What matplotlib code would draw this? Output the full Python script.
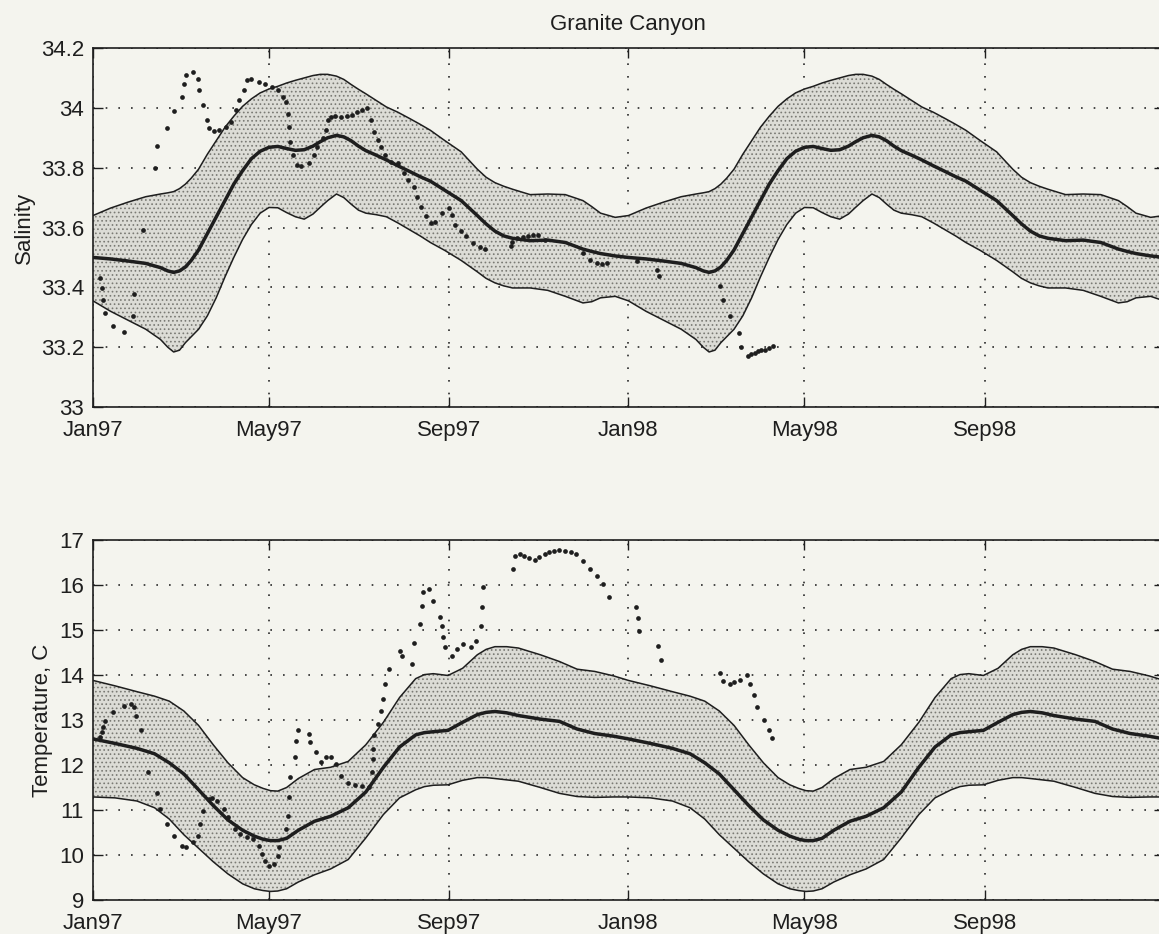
import numpy as np
import matplotlib
matplotlib.use("Agg")
import matplotlib.pyplot as plt

plt.rcParams['font.family'] = ['Liberation Sans', 'DejaVu Sans']
plt.rcParams['hatch.linewidth'] = 0.7

BG = '#f4f4ee'
INK = '#1e1e1e'

# x axis: days since 1 Jan 1997
tick_days = [0, 120, 243, 365, 485, 608]
tick_labels = ['Jan97', 'May97', 'Sep97', 'Jan98', 'May98', 'Sep98']

# --- salinity climatology (one year, day of year) ---
sal_clim_day = [0, 12, 24, 36, 46, 51, 55, 59, 63, 67, 72, 78, 84, 90, 96, 102, 108,
                114, 120, 126, 132, 138, 144, 150, 155, 160, 166, 171, 176, 181, 186,
                193, 200, 208, 216, 223, 230, 240, 251, 262, 268, 274, 280, 286, 298,
                310, 322, 334, 340, 346, 356, 365]
sal_mean = [33.50, 33.495, 33.488, 33.48, 33.466, 33.455, 33.45, 33.455, 33.468,
            33.49, 33.525, 33.58, 33.635, 33.69, 33.745, 33.79, 33.83, 33.855, 33.868,
            33.871, 33.864, 33.858, 33.86, 33.872, 33.887, 33.90, 33.908, 33.903,
            33.89, 33.872, 33.857, 33.842, 33.826, 33.806, 33.787, 33.77, 33.755,
            33.724, 33.69, 33.64, 33.612, 33.588, 33.572, 33.564, 33.556, 33.558,
            33.55, 33.528, 33.52, 33.513, 33.505, 33.50]
sal_upper = [33.64, 33.665, 33.685, 33.703, 33.712, 33.716, 33.72, 33.73, 33.745,
             33.765, 33.795, 33.845, 33.89, 33.935, 33.972, 34.005, 34.03, 34.05,
             34.063, 34.072, 34.083, 34.092, 34.10, 34.108, 34.112, 34.112, 34.106,
             34.095, 34.078, 34.062, 34.047, 34.025, 34.003, 33.985, 33.964, 33.945,
             33.925, 33.89, 33.853, 33.795, 33.768, 33.75, 33.738, 33.728, 33.71,
             33.712, 33.71, 33.69, 33.67, 33.648, 33.634, 33.64]
sal_lower = [33.355, 33.32, 33.29, 33.26, 33.226, 33.20, 33.184, 33.19, 33.215,
             33.235, 33.26, 33.305, 33.365, 33.435, 33.50, 33.56, 33.61, 33.648,
             33.667, 33.666, 33.65, 33.636, 33.628, 33.645, 33.668, 33.69, 33.712,
             33.70, 33.678, 33.658, 33.648, 33.643, 33.636, 33.615, 33.592, 33.572,
             33.55, 33.523, 33.49, 33.452, 33.43, 33.415, 33.405, 33.398, 33.398,
             33.39, 33.37, 33.348, 33.352, 33.365, 33.37, 33.355]

# --- salinity observations ---
sal_obs_day = [4.7, 5.9, 7.0, 8.2, 14, 21, 27, 28, 34, 42.4, 43.5, 50.6, 55.3, 60.7,
               62.4, 63.5, 68, 71.8, 72.5, 75.3, 77.6, 78.8, 82.4, 85.9, 90.6, 94,
               97.6, 99.3, 103, 104.7, 108, 113, 117.6, 122, 126, 129.4, 131.8, 133,
               133.7, 134, 136.5, 138.8, 142, 147, 150.6, 153, 156.5, 158.8, 160, 162,
               165, 169, 173, 176.5, 180, 183.5, 187, 189.4, 191.8, 194, 196.5, 199,
               203.5, 208, 212, 215, 219, 221, 223.5, 227, 230.6, 233, 237.7, 242.4,
               244.7, 247, 250.6, 254, 259, 263.5, 267, 284.7, 285.9, 289, 293,
               296.5, 300, 303.5, 308, 334, 339, 343.5, 347, 350.6, 370.8, 384.7,
               385.9, 427.7, 429.5, 434, 440.4, 442, 446.7, 448.5, 451, 453, 455.5,
               457.8, 460.5, 463.6]
sal_obs = [33.431, 33.398, 33.359, 33.314, 33.272, 33.251, 33.303, 33.379, 33.592,
           33.798, 33.872, 33.934, 33.989, 34.037, 34.081, 34.111, 34.12, 34.098,
           34.059, 34.009, 33.961, 33.931, 33.923, 33.926, 33.937, 33.953, 33.992,
           34.026, 34.059, 34.092, 34.098, 34.087, 34.081, 34.07, 34.059, 34.037,
           34.02, 33.981, 33.937, 33.887, 33.842, 33.809, 33.806, 33.814, 33.842,
           33.87, 33.898, 33.926, 33.959, 33.97, 33.972, 33.97, 33.973, 33.976,
           33.985, 33.992, 33.998, 33.959, 33.92, 33.892, 33.87, 33.842, 33.82,
           33.814, 33.781, 33.759, 33.737, 33.703, 33.67, 33.637, 33.614, 33.62,
           33.648, 33.664, 33.642, 33.609, 33.587, 33.57, 33.548, 33.534, 33.529,
           33.537, 33.553, 33.564, 33.568, 33.572, 33.574, 33.576, 33.559, 33.514,
           33.492, 33.481, 33.478, 33.481, 33.487, 33.459, 33.437, 33.403, 33.359,
           33.303, 33.248, 33.201, 33.17, 33.176, 33.18, 33.187, 33.19, 33.192,
           33.197, 33.203]

# --- temperature climatology ---
tmp_clim_day = [0, 15, 30, 42, 52, 62, 72, 82, 92, 102, 110, 116, 121, 126, 132, 140,
                151, 162, 174, 186, 198, 209, 220, 226, 232, 242, 252, 262, 268, 274,
                282, 290, 305, 318, 330, 342, 355, 365]
tmp_mean = [12.58, 12.48, 12.37, 12.25, 12.05, 11.8, 11.45, 11.1, 10.78, 10.55,
            10.42, 10.35, 10.32, 10.32, 10.37, 10.55, 10.75, 10.86, 11.05, 11.4,
            11.95, 12.4, 12.67, 12.72, 12.74, 12.77, 12.95, 13.12, 13.17, 13.19,
            13.16, 13.1, 13.02, 12.97, 12.8, 12.7, 12.64, 12.58]
tmp_upper = [13.88, 13.76, 13.63, 13.53, 13.42, 13.2, 12.88, 12.45, 12.05, 11.72,
             11.56, 11.48, 11.43, 11.42, 11.5, 11.7, 11.9, 11.95, 12.08, 12.45, 12.95,
             13.5, 13.92, 14.01, 14.03, 13.99, 14.15, 14.45, 14.57, 14.63, 14.63,
             14.6, 14.45, 14.3, 14.13, 14.08, 13.98, 13.88]
tmp_lower = [11.29, 11.27, 11.2, 11.05, 10.8, 10.45, 10.15, 9.85, 9.58, 9.36, 9.25,
             9.21, 9.19, 9.2, 9.25, 9.4, 9.56, 9.69, 9.9, 10.38, 10.9, 11.27, 11.45,
             11.52, 11.55, 11.56, 11.66, 11.72, 11.72, 11.7, 11.67, 11.64, 11.5, 11.37,
             11.3, 11.28, 11.29, 11.29]

# --- temperature observations ---
tmp_obs_day = [4.7, 5.9, 7.0, 8.2, 14, 21, 26, 27.8, 29.4, 33, 37.6, 43.5, 46, 50.6,
               55.3, 61, 63.5, 68, 71.8, 73, 75.3, 78.8, 81, 84.7, 89.4, 91.8, 96.5,
               100, 104.7, 109.4, 113, 115.3, 117.6, 120, 123.5, 126, 127, 131.8, 133,
               133.6, 134, 137.6, 138.4, 140, 147, 148, 151.8, 155.3, 158.8, 162, 165.9,
               169.4, 174, 178.8, 183.5, 188, 190, 190.6, 191, 191.8, 194, 196.5, 198,
               199, 202, 209.4, 210.6, 217.6, 219, 223, 224, 224.7, 229, 231.8, 236.5,
               237.6, 238.8, 240, 244.7, 248, 252, 257.6, 261, 264.8, 265.4, 266, 286,
               288, 291, 294, 297, 301, 304, 308, 311, 314, 318, 322, 326, 329.4, 334,
               339, 343.5, 348, 351.5, 370, 371.2, 372.4, 385.3, 387, 427.3, 429.6, 434,
               437, 441, 446, 448, 450.4, 452.7, 457.3, 460.8, 463]
tmp_obs = [12.615, 12.726, 12.837, 12.985, 13.185, 13.304, 13.356, 13.28, 13.096,
           12.785, 11.837, 11.378, 11.022, 10.689, 10.43, 10.207, 10.17, 10.281, 10.43,
           10.689, 10.985, 11.244, 11.26, 11.207, 11.022, 10.837, 10.578, 10.467,
           10.393, 10.356, 10.207, 10.022, 9.874, 9.763, 9.8, 9.985, 10.17, 10.578,
           10.874, 11.281, 11.726, 12.17, 12.541, 12.785, 12.689, 12.504, 12.281,
           12.06, 12.17, 12.17, 12.02, 11.763, 11.6, 11.556, 11.526, 11.504, 11.837,
           12.133, 12.356, 12.674, 12.911, 13.207, 13.467, 13.8, 14.133, 14.541,
           14.43, 14.244, 14.711, 15.133, 15.541, 15.837, 15.911, 15.652, 15.28,
           15.096, 14.837, 14.615, 14.43, 14.578, 14.689, 14.615, 14.763, 15.096,
           15.504, 15.948, 16.356, 16.652, 16.68, 16.652, 16.6, 16.563, 16.62,
           16.689, 16.73, 16.763, 16.77, 16.763, 16.74, 16.689, 16.54, 16.356, 16.2,
           16.02, 15.74, 15.52, 15.27, 14.98, 14.64, 14.33, 14.05, 13.87, 13.81,
           13.85, 13.9, 14.0, 13.81, 13.56, 13.28, 13.01, 12.78, 12.59]


def two_years(day, val):
    # the climatology repeats for 1997 and 1998
    d = np.concatenate([day, np.asarray(day[1:]) + 365])
    v = np.concatenate([val, val[1:]])
    return d, v


def draw_panel(ax, clim_day, mean, upper, lower, obs_day, obs, ylim, yticks, ylabels, ylabel):
    d, lo = two_years(clim_day, lower)
    _, hi = two_years(clim_day, upper)
    _, mu = two_years(clim_day, mean)

    ax.set_facecolor(BG)
    ax.fill_between(d, lo, hi, facecolor='#dcdcd6', edgecolor='#7a7a74',
                    hatch='....', linewidth=0, zorder=1)
    ax.plot(d, hi, color=INK, lw=1.1, zorder=2)
    ax.plot(d, lo, color=INK, lw=1.1, zorder=2)
    ax.plot(d, mu, color=INK, lw=2.5, zorder=3)
    ax.plot(obs_day, obs, 'o', color=INK, ms=3.4, mec='none', zorder=4)

    ax.set_xlim(0, 730)
    ax.set_ylim(*ylim)
    ax.set_xticks(tick_days)
    ax.set_xticklabels(tick_labels)
    ax.set_yticks(yticks)
    ax.set_yticklabels(ylabels)
    ax.set_ylabel(ylabel, fontsize=16, color=INK)
    ax.set_axisbelow(True)
    ax.grid(True, color='#2a2a2a', linestyle=(0, (1.0, 6.6)), linewidth=1.2)
    ax.tick_params(direction='in', length=7, width=1, top=True, right=True,
                   labelsize=16, colors=INK)
    ax.tick_params(axis='y', pad=6.5)
    ax.tick_params(axis='x', pad=9)
    for sp in ax.spines.values():
        sp.set_linewidth(1.2)
        sp.set_color(INK)


fig = plt.figure(figsize=(11.59, 9.34), dpi=100, facecolor=BG)

ax1 = fig.add_axes([0.0802, 0.5642, 0.924, 0.3844])
draw_panel(ax1, sal_clim_day, sal_mean, sal_upper, sal_lower, sal_obs_day, sal_obs,
           (33, 34.2), [33, 33.2, 33.4, 33.6, 33.8, 34, 34.2],
           ['33', '33.2', '33.4', '33.6', '33.8', '34', '34.2'], 'Salinity')
ax1.set_title('Granite Canyon', fontsize=16, color=INK, pad=13)

ax2 = fig.add_axes([0.0802, 0.0364, 0.924, 0.3854])
draw_panel(ax2, tmp_clim_day, tmp_mean, tmp_upper, tmp_lower, tmp_obs_day, tmp_obs,
           (9, 17), list(range(9, 18)), [str(t) for t in range(9, 18)], 'Temperature, C')

fig.savefig('out.png', dpi=100, facecolor=BG)
